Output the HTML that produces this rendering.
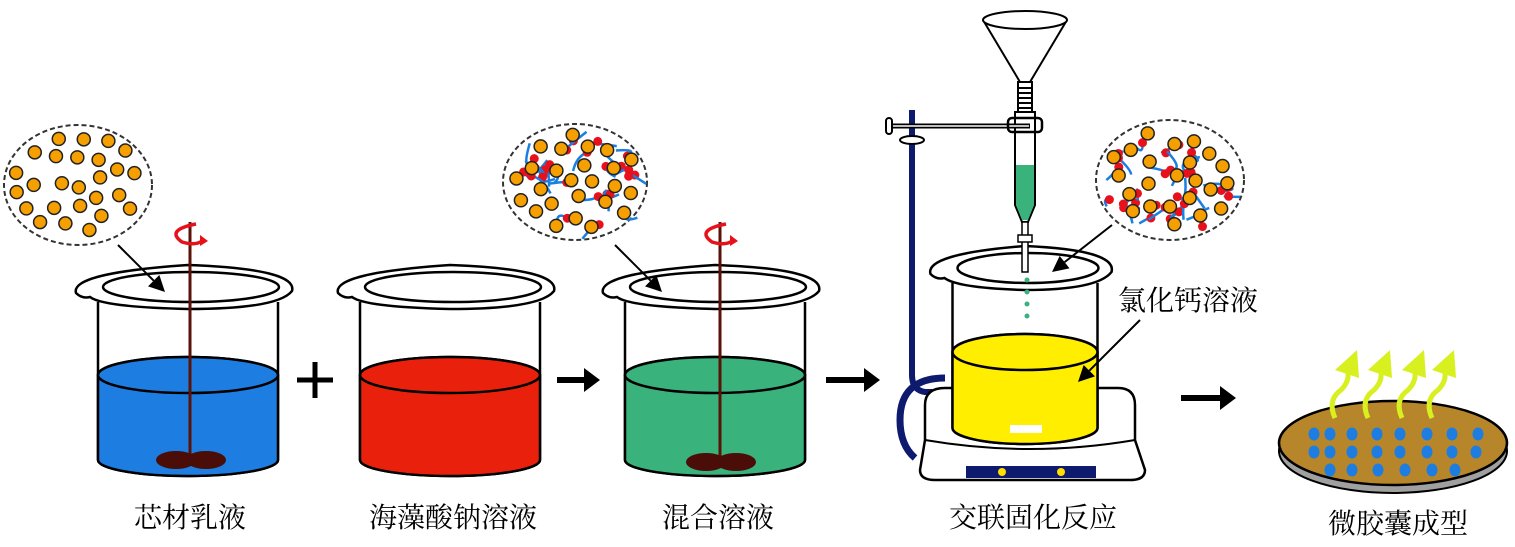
<!DOCTYPE html>
<html><head><meta charset="utf-8"><style>
html,body{margin:0;padding:0;background:#fff;width:1515px;height:547px;overflow:hidden}
svg{display:block}
text{font-family:"Liberation Serif","Noto Serif CJK SC","Noto Sans CJK SC",serif;font-size:28px;fill:#000}
</style></head><body>
<svg id="s" width="1515" height="547" viewBox="0 0 1515 547" xmlns="http://www.w3.org/2000/svg">
<g id="g"></g>
<text x="190" y="527" text-anchor="middle">芯材乳液</text>
<text x="453" y="527" text-anchor="middle">海藻酸钠溶液</text>
<text x="718" y="527" text-anchor="middle">混合溶液</text>
<text x="1033" y="527" text-anchor="middle">交联固化反应</text>
<text x="1398" y="533" text-anchor="middle">微胶囊成型</text>
<text x="1118" y="310">氯化钙溶液</text>
</svg>
<script>
const g=document.getElementById('g');let h='';
function beaker(cx,rimY,w,bot,liqY,col){
 const L=cx-w/2,R=cx+w/2;
 h+=`<path d="M${L},${rimY+15} L${L},${bot} A${w/2},16 0 0 0 ${R},${bot} L${R},${rimY+15}" fill="#fff" stroke="#000" stroke-width="2.5"/>`;
 if(col){h+=`<path d="M${L},${liqY} L${L},${bot} A${w/2},16 0 0 0 ${R},${bot} L${R},${liqY} A${w/2},18 0 0 0 ${L},${liqY}z" fill="${col}" stroke="#000" stroke-width="2.5"/>`;
 h+=`<ellipse cx="${cx}" cy="${liqY}" rx="${w/2}" ry="18" fill="${col}" stroke="#000" stroke-width="2.5"/>`;}
 h+=`<path d="M${L-22},${rimY+6} Q${L-28},${rimY-14} ${cx},${rimY-22} Q${R+20},${rimY-18} ${R+14},${rimY+4} Q${R},${rimY+22} ${cx},${rimY+22} Q${L+5},${rimY+20} ${L-8},${rimY+10} Q${L-16},${rimY+12} ${L-22},${rimY+6}z" fill="#fff" stroke="#000" stroke-width="2.5"/>`;
 h+=`<ellipse cx="${cx+3}" cy="${rimY}" rx="${w/2-2}" ry="15" fill="#fff" stroke="#000" stroke-width="2.5"/>`;
}
function stirrer(x,top,bot){
 h+=`<line x1="${x}" y1="${top}" x2="${x}" y2="${bot}" stroke="#5a1208" stroke-width="3"/>`;
 h+=`<ellipse cx="${x-14}" cy="${bot}" rx="20" ry="9" fill="#4a0d08"/><ellipse cx="${x+16}" cy="${bot}" rx="20" ry="9" fill="#4a0d08"/>`;
 h+=`<path d="M${x+6},${top+2} Q${x-25},${top+8} ${x-8},${top+20} Q${x+5},${top+24} ${x+12},${top+19}" fill="none" stroke="#e8101a" stroke-width="3.5"/><path d="M${x+10},${top+13} L${x+18},${top+19} L${x+10},${top+24}z" fill="#e8101a"/>`;
}
function arrow(x1,y1,x2,y2){
 const a=Math.atan2(y2-y1,x2-x1),l=16,wd=8;
 const bx=x2-l*Math.cos(a),by=y2-l*Math.sin(a);
 h+=`<line x1="${x1}" y1="${y1}" x2="${bx}" y2="${by}" stroke="#000" stroke-width="2"/>`;
 h+=`<path d="M${x2},${y2} L${bx+wd*Math.sin(a)},${by-wd*Math.cos(a)} L${bx-wd*Math.sin(a)},${by+wd*Math.cos(a)}z" fill="#000"/>`;
}
let seed=3;function r(){seed=(seed*9301+49297)%233280;return seed/233280;}
function bubble(cx,cy,rx,ry,n,net){
 h+=`<ellipse cx="${cx}" cy="${cy}" rx="${rx}" ry="${ry}" fill="#fff" stroke="#333" stroke-width="2" stroke-dasharray="5,3"/>`;
 let pts=[];
 for(let i=0;i<400&&pts.length<n;i++){let x=cx+(r()*2-1)*rx*0.88,y=cy+(r()*2-1)*ry*0.85;
  if(((x-cx)/(rx*0.88))**2+((y-cy)/(ry*0.85))**2>1)continue;
  if(pts.some(p=>(p[0]-x)**2+(p[1]-y)**2<300))continue;pts.push([x,y]);}
 if(net){for(let i=0;i<30;i++){let x=cx+(r()*2-1)*rx*0.85,y=cy+(r()*2-1)*ry*0.8;
  if(((x-cx)/(rx*0.9))**2+((y-cy)/(ry*0.9))**2>1)continue;
  h+=`<path d="M${x},${y} q${r()*30-15},${r()*30-15} ${r()*40-20},${r()*40-20}" fill="none" stroke="#1a7fe0" stroke-width="2.5"/>`;
  h+=`<circle cx="${x}" cy="${y}" r="4.5" fill="#e8101a"/>`;}}
 pts.forEach(p=>h+=`<circle cx="${p[0]}" cy="${p[1]}" r="6.5" fill="#f5a000" stroke="#222" stroke-width="1.5"/>`);
}
bubble(78,185,74,60,26,false);
bubble(575,182,72,58,26,true);
bubble(1170,180,74,60,28,true);
beaker(188,287,180,460,375,'#1e7de0');stirrer(190,222,460);
beaker(450,287,180,460,375,'#e8200c');
beaker(715,287,180,460,375,'#3ab27c');stirrer(720,222,462);
arrow(118,245,165,292);
arrow(615,245,662,292);
h+=`<path d="M912,110 L912,375 Q912,390 925,392 L945,392" fill="none" stroke="#0d1a6e" stroke-width="6"/>`;
h+=`<path d="M945,378 Q900,378 900,420 Q900,445 915,458" fill="none" stroke="#0d1a6e" stroke-width="7"/>`;
h+=`<path d="M925,405 Q925,388 945,388 L1118,388 Q1135,388 1135,405 L1135,440 L1145,470 Q1145,480 1130,480 L935,480 Q920,480 920,470 L925,440z" fill="#fff" stroke="#000" stroke-width="2.5"/>`;
h+=`<path d="M925,440 Q1030,458 1135,440" fill="none" stroke="#000" stroke-width="2"/>`;
h+=`<rect x="966" y="466" width="130" height="12" fill="#0d1a6e"/><circle cx="1002" cy="472" r="4" fill="#ffe000"/><circle cx="1061" cy="472" r="4" fill="#ffe000"/>`;
beaker(1025,268,145,428,352,'#ffee00');
h+=`<rect x="1010" y="425" width="32" height="8" fill="#fff"/>`;
h+=`<path d="M983,20 L1020,82 L1030,82 L1067,20" fill="#fff" stroke="#000" stroke-width="2"/><ellipse cx="1025" cy="20" rx="42" ry="9" fill="#fff" stroke="#000" stroke-width="2"/>`;
h+=`<rect x="1018" y="82" width="14" height="30" fill="#fff" stroke="#000" stroke-width="2"/>`;
for(let y=88;y<110;y+=5)h+=`<line x1="1018" y1="${y}" x2="1032" y2="${y}" stroke="#000" stroke-width="2"/>`;
h+=`<path d="M1015,112 L1015,205 L1022,222 L1028,222 L1035,205 L1035,112z" fill="#fff" stroke="#000" stroke-width="2"/>`;
h+=`<path d="M1016,165 L1016,205 L1022,220 L1028,220 L1034,205 L1034,165z" fill="#3ab27c"/>`;
h+=`<rect x="1022" y="222" width="6" height="50" fill="#fff" stroke="#000" stroke-width="1.5"/><rect x="1018" y="235" width="14" height="7" fill="#fff" stroke="#000" stroke-width="1.5"/>`;
h+=`<line x1="888" y1="126" x2="1030" y2="126" stroke="#000" stroke-width="5"/><line x1="889" y1="126" x2="1029" y2="126" stroke="#fff" stroke-width="1.5"/>`;
h+=`<rect x="886" y="118" width="6" height="16" rx="3" fill="#fff" stroke="#000" stroke-width="2"/>`;
h+=`<ellipse cx="912" cy="140" rx="12" ry="4" fill="#fff" stroke="#000" stroke-width="2"/>`;
h+=`<rect x="1008" y="118" width="34" height="14" rx="4" fill="none" stroke="#000" stroke-width="2.5"/>`;
for(let y=280;y<320;y+=12)h+=`<circle cx="1027" cy="${y}" r="2.5" fill="#3ab27c"/>`;
arrow(1112,225,1052,272);
arrow(1140,320,1078,382);
h+=`<path d="M315,362 L315,398 M297,380 L333,380" stroke="#000" stroke-width="5"/>`;
function bar(x1,x2,y){h+=`<line x1="${x1}" y1="${y}" x2="${x2-14}" y2="${y}" stroke="#000" stroke-width="6"/><path d="M${x2-16},${y-12} L${x2},${y} L${x2-16},${y+12}z" fill="#000"/>`;}
bar(557,600,380);bar(826,880,380);bar(1181,1236,398);
h+=`<ellipse cx="1393" cy="451" rx="114" ry="42" fill="#a0a0a0" stroke="#000" stroke-width="2"/>`;
h+=`<ellipse cx="1393" cy="443" rx="114" ry="42" fill="#b8862a" stroke="#000" stroke-width="2.5"/>`;
const rows=[[1314,1330,1352,1377,1400,1427,1452,1478],[1314,1330,1352,1377,1400,1427,1452,1476],[1330,1352,1378,1405,1432,1455]];
const ry=[434,452,470];
rows.forEach((rw,i)=>rw.forEach(x=>h+=`<ellipse cx="${x}" cy="${ry[i]}" rx="5.5" ry="6.5" fill="#1e7de0"/>`));
[1335,1368,1402,1432].forEach(x=>{h+=`<path d="M${x},418 Q${x-8},400 ${x+6},390 Q${x+16},380 ${x+12},368" fill="none" stroke="#d8f020" stroke-width="5"/><path d="M${x},370 L${x+22},350 L${x+24},378z" fill="#d8f020"/>`;});
g.innerHTML=h;
</script>
</body></html>
